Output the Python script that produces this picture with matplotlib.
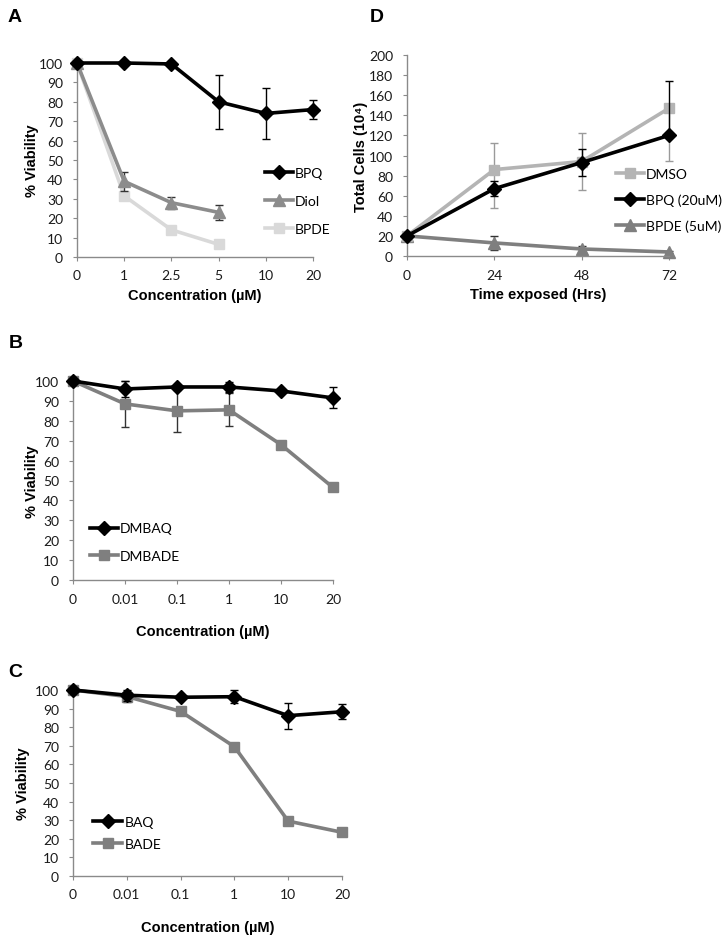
import matplotlib
matplotlib.use("Agg")
import matplotlib.pyplot as plt
from matplotlib.lines import Line2D
import numpy as np

# ---------------- Data ----------------
# Panel A
a_labels = ["0", "1", "2.5", "5", "10", "20"]
a_bpq = [100, 100, 99.5, 80, 74, 76]
a_bpq_err = [0, 0, 0, 14, 13, 5]
a_diol = [100, 39, 28, 23]
a_diol_err = [0, 5, 3, 4]
a_bpde = [100, 31.5, 14, 6.5]
a_bpde_err = [0, 2, 1.5, 1.5]

# Panel D
d_labels = ["0", "24", "48", "72"]
d_dmso = [20, 86, 94, 147]
d_dmso_err_lo = [0, 38, 28, 52]
d_dmso_err_hi = [0, 26, 28, 0]
d_bpq = [20, 67, 93, 120]
d_bpq_err_lo = [0, 7.5, 13, 0]
d_bpq_err_hi = [0, 7.5, 13, 54]
d_bpde = [20, 13, 7, 4]
d_bpde_err = [0, 7, 3, 1]

# Panel B
b_labels = ["0", "0.01", "0.1", "1", "10", "20"]
b_dmbaq = [100, 96, 97, 97, 95, 91.5]
b_dmbaq_err = [0, 4, 0, 2.5, 0, 5.3]
b_dmbade = [100, 88.5, 85, 85.5, 68, 46.5]
b_dmbade_err = [0, 11.5, 10.6, 8.3, 0, 0]

# Panel C
c_labels = ["0", "0.01", "0.1", "1", "10", "20"]
c_baq = [100, 97.2, 96.1, 96.4, 86.2, 88.3]
c_baq_err = [0, 3, 0, 3.6, 7, 4]
c_bade = [100, 96.5, 88.5, 69.5, 29.5, 23.5]
c_bade_err = [0, 3, 0, 0, 0, 0]

# ---------------- Style ----------------
TICK_FONT = ["Lato", "DejaVu Sans"]
LABEL_FONT = ["Liberation Sans", "DejaVu Sans"]
AXCOL = "#8a8a8a"
BLACK = "#000000"
DARK = "#7f7f7f"
MID = "#8c8c8c"
LIGHT = "#d9d9d9"
DMSO_COL = "#b4b4b4"
LW = 2.6

fig = plt.figure(figsize=(7.24, 9.45), dpi=100)


def fx(px):
    return px / 724.0


def fy(py):
    return 1 - py / 945.0


def make_axes(left, right, top, bottom):
    ax = fig.add_axes([fx(left), fy(bottom), fx(right) - fx(left), fy(top) - fy(bottom)])
    ax._px = (left, right, top, bottom)
    return ax


def style_axes(ax, labels, ymax, ystep, xlabel, ylabel, ylab_dx, xlab_dy):
    ax.set_xlim(0, len(labels) - 1)
    ax.set_ylim(0, ymax)
    ax.set_xticks(range(len(labels)))
    ax.set_xticklabels(labels)
    ax.set_yticks(np.arange(0, ymax + 0.1, ystep))
    for s in ["top", "right"]:
        ax.spines[s].set_visible(False)
    for s in ["left", "bottom"]:
        ax.spines[s].set_color(AXCOL)
        ax.spines[s].set_linewidth(1.0)
    ax.tick_params(axis="both", colors=AXCOL, length=3, width=0.8, labelcolor="#1a1a1a",
                   labelsize=10)
    ax.tick_params(axis="x", pad=6)
    ax.tick_params(axis="y", pad=7)
    for t in ax.get_xticklabels() + ax.get_yticklabels():
        t.set_fontfamily(TICK_FONT)
    left, right, top, bottom = ax._px
    w = right - left
    h = bottom - top
    ax.set_xlabel(xlabel, fontsize=10.5, fontweight="bold", family=LABEL_FONT)
    ax.set_ylabel(ylabel, fontsize=10.5, fontweight="bold", family=LABEL_FONT)
    ax.xaxis.label.set_va("center")
    ax.yaxis.label.set_va("center")
    ax.yaxis.set_label_coords(-ylab_dx / w, 0.5)
    ax.xaxis.set_label_coords(0.5, -xlab_dy / h)


def series(ax, y, yerr, color, marker, ms, ecolor=BLACK, z=3):
    x = np.arange(len(y))
    ax.errorbar(x, y, yerr=yerr, color=color, marker=marker, markersize=ms, lw=LW,
                ecolor=ecolor, elinewidth=1.0, capsize=3, capthick=1.0,
                zorder=z, clip_on=False)


def handle(color, marker, ms):
    return Line2D([], [], color=color, marker=marker, markersize=ms, lw=LW)


def legend(ax, handles, labels, x_px, yc_px, spacing, hl=2.0):
    ax.legend(handles, labels, loc="center left",
              bbox_to_anchor=(fx(x_px), fy(yc_px)), bbox_transform=fig.transFigure,
              frameon=False, borderpad=0, borderaxespad=0, handlelength=hl,
              handletextpad=0.15, labelspacing=spacing,
              prop={"family": TICK_FONT, "size": 10})


# ---------------- Panel A ----------------
axA = make_axes(77, 313, 64, 258)
series(axA, a_bpde, a_bpde_err, LIGHT, "s", 6.5, ecolor="#9a9a9a", z=2)
series(axA, a_diol, a_diol_err, MID, "^", 8, ecolor="#333333", z=3)
series(axA, a_bpq, a_bpq_err, BLACK, "D", 7, z=4)
style_axes(axA, a_labels, 100, 10, "Concentration (\u00b5M)", "% Viability", 45, 38)
legend(axA, [handle(BLACK, "D", 7), handle(MID, "^", 8), handle(LIGHT, "s", 6.5)],
       ["BPQ", "Diol", "BPDE"], 265, 202, 1.15)

# ---------------- Panel D ----------------
axD = make_axes(407, 669, 56, 257)
xD = np.arange(len(d_labels))
axD.errorbar(xD, d_bpde, yerr=d_bpde_err, color=DARK, marker="^", markersize=8, lw=LW,
             ecolor="#333333", elinewidth=1.0, capsize=3, zorder=2, clip_on=False)
axD.errorbar(xD, d_dmso, yerr=[d_dmso_err_lo, d_dmso_err_hi], color=DMSO_COL, marker="s",
             markersize=7, lw=LW, ecolor="#9a9a9a", elinewidth=1.0, capsize=3,
             zorder=3, clip_on=False)
axD.errorbar(xD, d_bpq, yerr=[d_bpq_err_lo, d_bpq_err_hi], color=BLACK, marker="D",
             markersize=7, lw=LW, ecolor=BLACK, elinewidth=1.0, capsize=3,
             zorder=4, clip_on=False)
style_axes(axD, d_labels, 200, 20, "Time exposed (Hrs)", "Total Cells (10\u2074)", 46, 38)
legend(axD, [handle(DMSO_COL, "s", 7), handle(BLACK, "D", 7), handle(DARK, "^", 8)],
       ["DMSO", "BPQ (20uM)", "BPDE (5uM)"], 616, 201, 0.95)

# ---------------- Panel B ----------------
axB = make_axes(73, 333, 382, 581)
series(axB, b_dmbade, b_dmbade_err, DARK, "s", 7.5, ecolor="#333333", z=3)
series(axB, b_dmbaq, b_dmbaq_err, BLACK, "D", 7, z=4)
style_axes(axB, b_labels, 100, 10, "Concentration (\u00b5M)", "% Viability", 41, 51)
legend(axB, [handle(BLACK, "D", 7), handle(DARK, "s", 7.5)], ["DMBAQ", "DMBADE"],
       90, 543, 1.1)

# ---------------- Panel C ----------------
axC = make_axes(73, 342, 691, 877)
series(axC, c_bade, c_bade_err, DARK, "s", 7.5, ecolor="#333333", z=3)
series(axC, c_baq, c_baq_err, BLACK, "D", 7, z=4)
style_axes(axC, c_labels, 100, 10, "Concentration (\u00b5M)", "% Viability", 50, 51)
legend(axC, [handle(BLACK, "D", 7), handle(DARK, "s", 7.5)], ["BAQ", "BADE"],
       93, 834, 0.75, hl=2.1)

# Panel letters
for letter, x, y in [("A", 8, 18), ("D", 370, 17), ("B", 9, 344), ("C", 8, 673)]:
    fig.text(fx(x), fy(y), letter, fontsize=14, fontweight="bold", family=LABEL_FONT,
             va="center", ha="left")

fig.savefig("out.png", dpi=100)
